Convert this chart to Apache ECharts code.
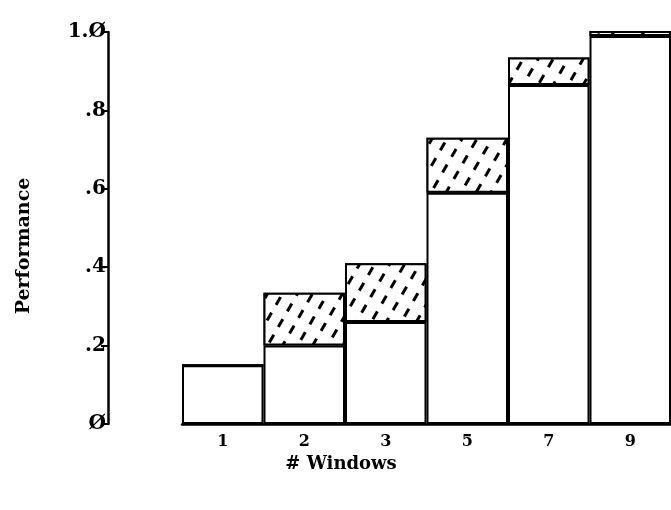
<!DOCTYPE html>
<html>
<head>
<meta charset="utf-8">
<script src="https://cdn.jsdelivr.net/npm/echarts@6/dist/echarts.min.js"></script>
<style>
  html, body { margin: 0; padding: 0; background: #fff; }
  #chart { width: 671px; height: 510px; }
</style>
</head>
<body>
<div id="chart"></div>
<script>
// # windows on the x axis
const windows = ['1', '2', '3', '5', '7', '9']
// plain (white) part of each bar
const basePerf = [0.15, 0.20, 0.26, 0.59, 0.865, 0.99]
// hatched part stacked on top
const extraPerf = [0, 0.135, 0.15, 0.14, 0.07, 0.02]
// y tick labels as drawn
const yTicks = ['Ø', '.2', '.4', '.6', '.8', '1.Ø']

const chart = echarts.init(document.getElementById('chart'), null, { renderer: 'canvas' })

chart.setOption({
  backgroundColor: '#fff',
  animation: false,
  grid: {
    left: 182,
    right: -9,
    top: 32,
    bottom: 86
  },
  xAxis: {
    type: 'category',
    data: windows,
    axisLine: { lineStyle: { color: '#000', width: 2.5 } },
    axisTick: { show: false },
    axisLabel: {
      color: '#000',
      fontFamily: 'DejaVu Serif',
      fontWeight: 'bold',
      fontSize: 16,
      margin: 10
    }
  },
  yAxis: {
    type: 'value',
    min: 0,
    max: 1,
    interval: 0.2,
    offset: 74,
    splitLine: { show: false },
    axisLine: { show: true, lineStyle: { color: '#000', width: 2.5 } },
    axisTick: { show: true, length: 7, lineStyle: { color: '#000', width: 2 } },
    axisLabel: {
      color: '#000',
      fontFamily: 'DejaVu Serif',
      fontWeight: 'bold',
      fontSize: 20,
      margin: 2,
      formatter(value) {
        return yTicks[Math.round(value / 0.2)]
      }
    }
  },
  graphic: [
    {
      type: 'text',
      x: 24,
      y: 246,
      rotation: Math.PI / 2,
      style: {
        text: 'Performance',
        fill: '#000',
        font: 'bold 19px "DejaVu Serif"',
        textAlign: 'center',
        textVerticalAlign: 'middle'
      }
    },
    {
      type: 'text',
      x: 341,
      y: 464,
      style: {
        text: '# Windows',
        fill: '#000',
        font: 'bold 18px "DejaVu Serif"',
        textAlign: 'center',
        textVerticalAlign: 'middle'
      }
    }
  ],
  series: [
    {
      type: 'bar',
      stack: 'perf',
      barCategoryGap: '0%',
      data: basePerf,
      itemStyle: {
        color: '#fff',
        borderColor: '#000',
        borderWidth: 2
      }
    },
    {
      type: 'bar',
      stack: 'perf',
      barCategoryGap: '0%',
      data: extraPerf,
      itemStyle: {
        color: '#fff',
        borderColor: '#000',
        borderWidth: 2,
        decal: {
          symbol: 'rect',
          color: '#000',
          backgroundColor: '#fff',
          dashArrayX: [[9, 9]],
          dashArrayY: [2.5, 10],
          rotation: -Math.PI / 3
        }
      }
    }
  ]
})
</script>
</body>
</html>
